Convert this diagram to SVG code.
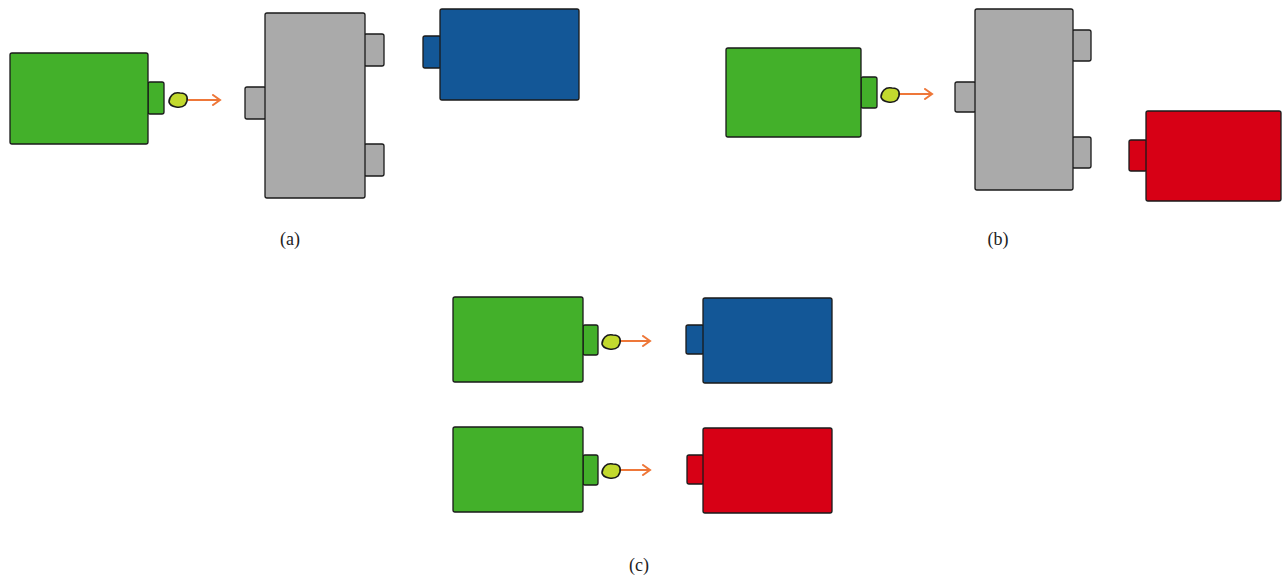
<svg xmlns="http://www.w3.org/2000/svg" width="1282" height="577" viewBox="0 0 1282 577">
<style>
.g{fill:#43b02a;stroke:#1a1a1a;stroke-width:1.3}
.b{fill:#135797;stroke:#1a1a1a;stroke-width:1.3}
.r{fill:#d70015;stroke:#1a1a1a;stroke-width:1.3}
.k{fill:#aaaaaa;stroke:#1a1a1a;stroke-width:1.3}
.blob{fill:#c2d92e;stroke:#1a1a1a;stroke-width:1.6}
.arr{stroke:#ee7739;stroke-width:2;fill:none}
.lbl{font-family:"Liberation Serif","DejaVu Serif",serif;font-size:18px;fill:#222;text-anchor:middle}
</style>
<defs>
<marker id="ah" markerWidth="12" markerHeight="12" refX="9" refY="6" orient="auto" markerUnits="userSpaceOnUse">
<path d="M2,1 L9,6 L2,11" fill="none" stroke="#ee7739" stroke-width="2" stroke-linecap="round"/>
</marker>
<path id="bl" d="M-7,-5 Q-4,-8 1,-7 Q7,-7 8,-3 Q9,1 6,5 Q3,8 -3,7 Q-9,6 -10,2 Q-10,-2 -7,-5 Z"/>
</defs>
<!-- (a) -->
<g id="a-green"><rect class="g" x="148" y="82" width="16" height="32" rx="2"/><rect class="g" x="10" y="53" width="138" height="91" rx="2"/></g>
<g id="a-blob"><use href="#bl" class="blob" x="179" y="100"/></g>
<g id="a-gray"><rect class="k" x="245" y="87" width="21" height="32" rx="2"/><rect class="k" x="364" y="34" width="20" height="32" rx="2"/><rect class="k" x="364" y="144" width="20" height="32" rx="2"/><rect class="k" x="265" y="13" width="100" height="185" rx="2"/></g>
<g id="a-blue"><rect class="b" x="423" y="36" width="18" height="32" rx="2"/><rect class="b" x="440" y="9" width="139" height="91" rx="2"/></g>
<text class="lbl" x="290" y="245">(a)</text>
<!-- (b) -->
<g id="b-green"><rect class="g" x="861" y="77" width="16" height="31" rx="2"/><rect class="g" x="726" y="48" width="135" height="89" rx="2"/></g>
<g id="b-blob"><use href="#bl" class="blob" x="891" y="95"/></g>
<g id="b-gray"><rect class="k" x="955" y="82" width="21" height="30" rx="2"/><rect class="k" x="1072" y="30" width="19" height="31" rx="2"/><rect class="k" x="1072" y="137" width="19" height="31" rx="2"/><rect class="k" x="975" y="9" width="98" height="181" rx="2"/></g>
<g id="b-red"><rect class="r" x="1129" y="140" width="18" height="31" rx="2"/><rect class="r" x="1146" y="111" width="135" height="90" rx="2"/></g>
<text class="lbl" x="998" y="245">(b)</text>
<!-- (c) -->
<g id="c-green1"><rect class="g" x="583" y="325" width="15" height="30" rx="2"/><rect class="g" x="453" y="297" width="130" height="85" rx="2"/></g>
<g id="c-blob1"><use href="#bl" class="blob" x="612" y="342"/></g>
<g id="c-blue"><rect class="b" x="686" y="325" width="18" height="29" rx="2"/><rect class="b" x="703" y="298" width="129" height="85" rx="2"/></g>
<g id="c-green2"><rect class="g" x="583" y="455" width="15" height="30" rx="2"/><rect class="g" x="453" y="427" width="130" height="85" rx="2"/></g>
<g id="c-blob2"><use href="#bl" class="blob" x="612" y="471"/></g>
<g id="c-red"><rect class="r" x="687" y="455" width="17" height="29" rx="2"/><rect class="r" x="703" y="428" width="129" height="85" rx="2"/></g>
<text class="lbl" x="639" y="571">(c)</text>
<g id="connectors">
<line class="arr" x1="188" y1="100" x2="220" y2="100" marker-end="url(#ah)"/>
<line class="arr" x1="900" y1="94" x2="932" y2="94" marker-end="url(#ah)"/>
<line class="arr" x1="621" y1="341" x2="650" y2="341" marker-end="url(#ah)"/>
<line class="arr" x1="621" y1="470" x2="650" y2="470" marker-end="url(#ah)"/>
</g>
</svg>
